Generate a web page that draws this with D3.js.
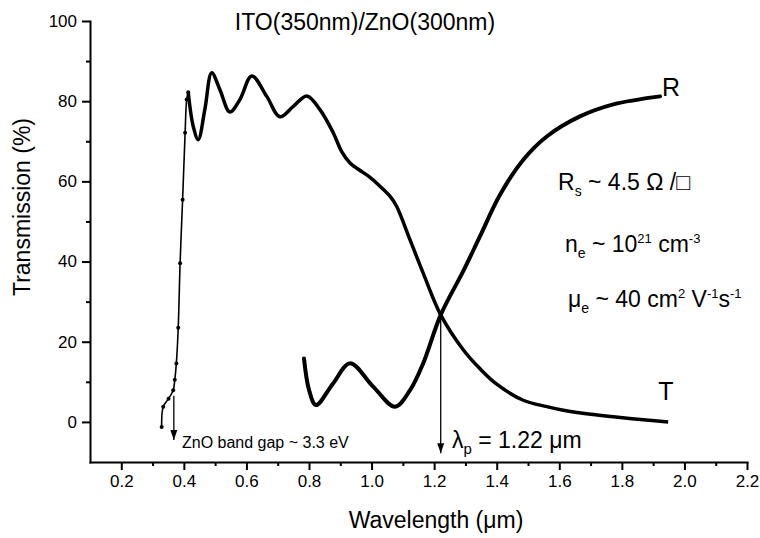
<!DOCTYPE html>
<html>
<head>
<meta charset="utf-8">
<script src="https://cdn.jsdelivr.net/npm/d3@7"></script>
<style>
    body { margin: 0; background: #fff; }
    svg { font-family: "Liberation Sans", Arial, sans-serif; }
    .axis path, .axis line { stroke: #000; stroke-width: 2; }
    .axis text { font-size: 17px; fill: #000; }
</style>
</head>
<body>
<svg id="plot" width="760" height="538"></svg>
<script>

// Data.

// Transmission: steep band edge (drawn with markers).
const T_EDGE_X = [0.329, 0.334, 0.351, 0.366, 0.371, 0.376, 0.382, 0.388, 0.396, 0.404, 0.409, 0.414];
const T_EDGE_Y = [-1.3, 3.8, 5.8, 7.9, 10.5, 14.6, 23.5, 39.6, 55.4, 72.1, 80.4, 82.2];

// Transmission: rest of the curve.
const T_X = [0.414, 0.430, 0.446, 0.467, 0.489, 0.515, 0.547, 0.579, 0.617, 0.665, 0.707, 0.750,
    0.793, 0.835, 0.877, 0.904, 0.931, 0.960, 0.990, 1.027, 1.060, 1.080, 1.123, 1.165,
    1.221, 1.293, 1.346, 1.400, 1.485, 1.560, 1.613, 1.700, 1.773, 1.860, 1.948];
const T_Y = [82.2, 73.7, 70.4, 77.9, 87.1, 82.9, 77.3, 80.4, 86.3, 81.2, 76.1, 78.7,
    81.3, 77.9, 72.2, 67.5, 64.6, 62.9, 61.3, 58.8, 56.2, 53.8, 45.4, 37.1,
    26.7, 18.0, 13.3, 9.4, 5.4, 3.8, 2.9, 1.9, 1.3, 0.6, 0.0];

// Reflection.
const R_X = [0.784, 0.800, 0.822, 0.877, 0.931, 1.005, 1.075, 1.123, 1.165, 1.221, 1.293,
    1.346, 1.410, 1.485, 1.560, 1.666, 1.773, 1.922];
const R_Y = [15.8, 8.0, 4.2, 9.6, 14.6, 8.8, 3.8, 7.9, 14.6, 26.7, 37.6,
    46.2, 56.6, 65.4, 71.2, 76.2, 79.2, 81.2];

// Axis ticks.
const X_TICKS = [0.2, 0.4, 0.6, 0.8, 1.0, 1.2, 1.4, 1.6, 1.8, 2.0, 2.2];
const X_MINOR = [0.3, 0.5, 0.7, 0.9, 1.1, 1.3, 1.5, 1.7, 1.9, 2.1];
const Y_TICKS = [0, 20, 40, 60, 80, 100];
const Y_MINOR = [10, 30, 50, 70, 90];

// Arrows: [wavelength, from, to].
const GAP_ARROW = [0.368, 6.5, -4.5];
const LP_ARROW = [1.221, 26.7, -7.8];

const plot = d3.select("#plot");

//----------------------------------------------------------------------------//
//                                    AXES                                    //
//----------------------------------------------------------------------------//

const xScale = d3.scaleLinear().domain([0.1, 2.2]).range([90, 747]);
const yScale = d3.scaleLinear().domain([-10, 100]).range([462, 21]);

plot.append("g")
    .attr("class", "axis")
    .attr("transform", `translate(0, ${yScale(-10)})`)
    .call(d3.axisBottom(xScale).tickValues(X_TICKS).tickFormat(d3.format(".1f"))
        .tickSize(8).tickSizeOuter(0).tickPadding(5));

plot.append("g")
    .attr("class", "axis")
    .attr("transform", `translate(0, ${yScale(-10)})`)
    .call(d3.axisBottom(xScale).tickValues(X_MINOR).tickFormat("").tickSize(4).tickSizeOuter(0))
    .select(".domain").remove();

plot.append("g")
    .attr("class", "axis")
    .attr("transform", `translate(${xScale(0.1)}, 0)`)
    .call(d3.axisLeft(yScale).tickValues(Y_TICKS).tickSize(8).tickSizeOuter(0).tickPadding(5));

plot.append("g")
    .attr("class", "axis")
    .attr("transform", `translate(${xScale(0.1)}, 0)`)
    .call(d3.axisLeft(yScale).tickValues(Y_MINOR).tickFormat("").tickSize(4).tickSizeOuter(0))
    .select(".domain").remove();

plot.selectAll(".axis .domain").attr("stroke-linecap", "square");

// Axis titles.

plot.append("text")
    .attr("transform", `translate(30, 207) rotate(-90)`)
    .attr("text-anchor", "middle")
    .attr("font-size", 23)
    .text("Transmission (%)");

plot.append("text")
    .attr("x", 436)
    .attr("y", 528)
    .attr("text-anchor", "middle")
    .attr("font-size", 23)
    .text("Wavelength (\u03bcm)");

//----------------------------------------------------------------------------//
//                                   CURVES                                   //
//----------------------------------------------------------------------------//

const zip = (xs, ys) => xs.map((x, i) => ({ x: x, y: ys[i] }));

const line = d3.line()
    .x(d => xScale(d.x))
    .y(d => yScale(d.y))
    .curve(d3.curveCatmullRom.alpha(0.5));

const edge = zip(T_EDGE_X, T_EDGE_Y);

plot.append("path")
    .attr("d", line(edge))
    .attr("fill", "none")
    .attr("stroke", "#000")
    .attr("stroke-width", 1.6);

plot.selectAll("edgeDots")
    .data(edge)
    .join("circle")
        .attr("cx", d => xScale(d.x))
        .attr("cy", d => yScale(d.y))
        .attr("r", 2)
        .attr("fill", "#000");

plot.append("path")
    .attr("d", line(zip(T_X, T_Y)))
    .attr("fill", "none")
    .attr("stroke", "#000")
    .attr("stroke-width", 3.5)
    .attr("stroke-linejoin", "round");

plot.append("path")
    .attr("d", line(zip(R_X, R_Y)))
    .attr("fill", "none")
    .attr("stroke", "#000")
    .attr("stroke-width", 4)
    .attr("stroke-linecap", "round")
    .attr("stroke-linejoin", "round");

// Arrows.

plot.append("defs").append("marker")
    .attr("id", "head")
    .attr("viewBox", "0 0 10 10")
    .attr("refX", 10)
    .attr("refY", 5)
    .attr("markerWidth", 10)
    .attr("markerHeight", 10)
    .attr("markerUnits", "userSpaceOnUse")
    .attr("orient", "auto")
  .append("path")
    .attr("d", "M0,1.5 L10,5 L0,8.5 Z")
    .attr("fill", "#000");

[GAP_ARROW, LP_ARROW].forEach(a => {
    plot.append("line")
        .attr("x1", xScale(a[0]))
        .attr("x2", xScale(a[0]))
        .attr("y1", yScale(a[1]))
        .attr("y2", yScale(a[2]))
        .attr("stroke", "#000")
        .attr("stroke-width", 1.3)
        .attr("marker-end", "url(#head)");
});

//----------------------------------------------------------------------------//
//                                   LABELS                                   //
//----------------------------------------------------------------------------//

plot.append("text")
    .attr("x", xScale(0.979))
    .attr("y", yScale(97.8))
    .attr("text-anchor", "middle")
    .attr("font-size", 23)
    .text("ITO(350nm)/ZnO(300nm)");

plot.append("text")
    .attr("x", xScale(1.928))
    .attr("y", yScale(81.4))
    .attr("font-size", 25)
    .text("R");

plot.append("text")
    .attr("x", xScale(1.916))
    .attr("y", yScale(5.4))
    .attr("font-size", 25)
    .text("T");

plot.append("text")
    .attr("x", xScale(0.394))
    .attr("y", yScale(-6.5))
    .attr("font-size", 16)
    .text("ZnO band gap ~ 3.3 eV");

// Text with sub / superscripts: parts are [text, shift, size].
function richText(xv, yv, size, parts) {
    const t = plot.append("text")
        .attr("x", xScale(xv))
        .attr("y", yScale(yv))
        .attr("font-size", size);
    parts.forEach(p => {
        t.append("tspan")
            .attr("dy", p[1])
            .attr("font-size", p[2] || size)
            .text(p[0]);
    });
    return t;
}

richText(1.257, -6.5, 23, [
    ["\u03bb", 0], ["p", 6, 15], [" = 1.22 \u03bcm", -6]
]);

richText(1.596, 57.8, 23, [
    ["R", 0], ["s", 6, 14], [" ~ 4.5 \u03a9 /\u25a1", -6]
]);

richText(1.618, 42.4, 23, [
    ["n", 0], ["e", 6, 14], [" ~ 10", -6], ["21", -9, 13], [" cm", 9], ["-3", -9, 13]
]);

richText(1.628, 28.6, 23, [
    ["\u03bc", 0], ["e", 6, 14], [" ~ 40 cm", -6], ["2", -9, 13], [" V", 9], ["-1", -9, 13],
    ["s", 9], ["-1", -9, 13]
]);

</script>
</body>
</html>
